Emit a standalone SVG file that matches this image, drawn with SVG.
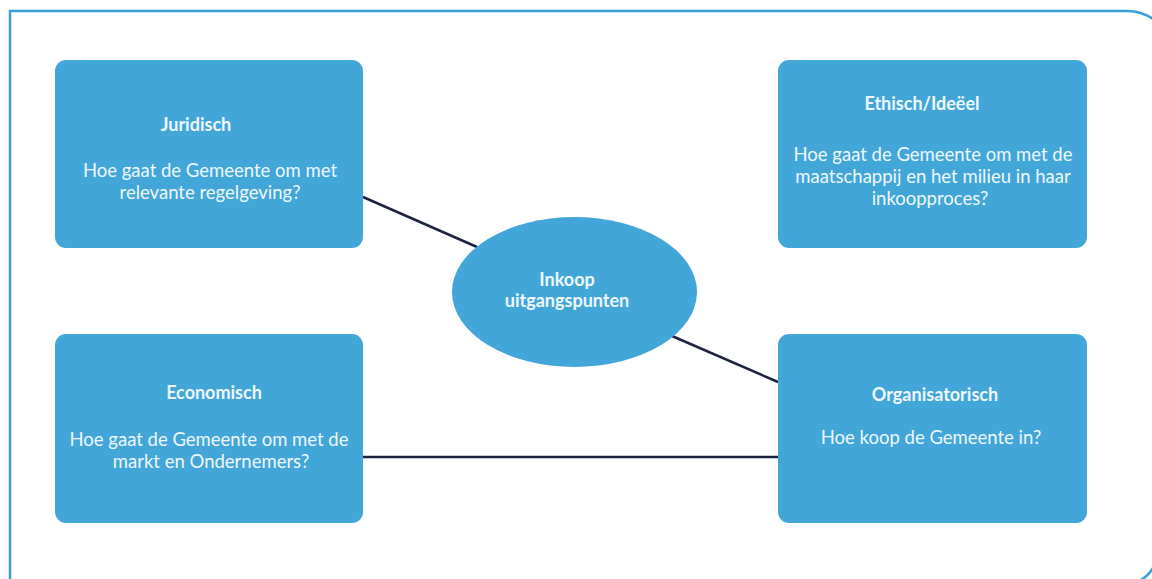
<svg xmlns="http://www.w3.org/2000/svg" width="1152" height="579" viewBox="0 0 1152 579">
<style>
.frame{fill:none;stroke:#3a9fd6;stroke-width:2.5}
.box{fill:#42a6d9}
.title{font-family:Lato,"Open Sans",sans-serif;font-weight:bold;font-size:18px;fill:#eef7fc;text-anchor:middle}
.body{font-family:Lato,"Open Sans",sans-serif;font-size:18.5px;fill:#eef7fc;text-anchor:middle}
.conn{stroke:#1b2340;stroke-width:2.5;fill:none}
</style>
<rect width="1152" height="579" fill="#ffffff"/>
<path class="frame" d="M10,581 V11 H1128 Q1141,11 1153,19"/>
<path class="frame" d="M1138,581 Q1147,578 1153,568" stroke-width="3"/>
<g id="connectors">
<line class="conn" x1="363" y1="197" x2="477" y2="247"/>
<line class="conn" x1="672" y1="336" x2="778" y2="382"/>
<line class="conn" x1="363" y1="457" x2="778" y2="457"/>
</g>
<g id="juridisch">
<rect class="box" x="55" y="60" width="308" height="188" rx="11"/>
<text class="title" x="196" y="131">Juridisch</text>
<text class="body" x="210" y="177">Hoe gaat de Gemeente om met</text>
<text class="body" x="210" y="199">relevante regelgeving?</text>
</g>
<g id="ethisch">
<rect class="box" x="778" y="60" width="309" height="188" rx="11"/>
<text class="title" x="922" y="110">Ethisch/Ideëel</text>
<text class="body" x="933" y="161">Hoe gaat de Gemeente om met de</text>
<text class="body" x="933" y="183">maatschappij en het milieu in haar</text>
<text class="body" x="930" y="205">inkoopproces?</text>
</g>
<g id="economisch">
<rect class="box" x="55" y="334" width="308" height="189" rx="11"/>
<text class="title" x="214" y="399">Economisch</text>
<text class="body" x="209" y="446">Hoe gaat de Gemeente om met de</text>
<text class="body" x="211" y="468">markt en Ondernemers?</text>
</g>
<g id="organisatorisch">
<rect class="box" x="778" y="334" width="309" height="189" rx="11"/>
<text class="title" x="935" y="401">Organisatorisch</text>
<text class="body" x="931" y="444">Hoe koop de Gemeente in?</text>
</g>
<g id="inkoop">
<ellipse class="box" cx="574.5" cy="292" rx="122.5" ry="75"/>
<text class="title" x="567" y="286">Inkoop</text>
<text class="title" x="567" y="307">uitgangspunten</text>
</g>
</svg>
